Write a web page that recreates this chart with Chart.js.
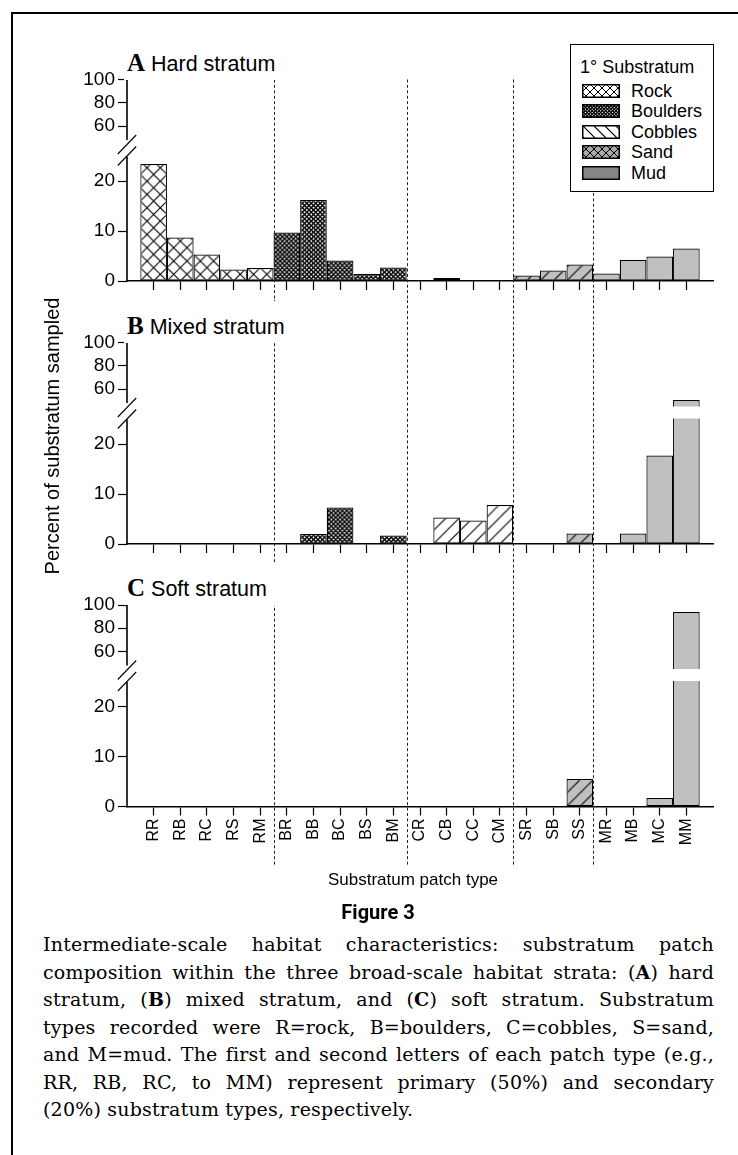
<!DOCTYPE html>
<html>
<head>
<meta charset="utf-8">
<script src="https://cdn.jsdelivr.net/npm/chart.js@4.4.1/dist/chart.umd.min.js"></script>
<style>
  html, body { margin: 0; padding: 0; background: #fff; }
  body { width: 738px; height: 1155px; position: relative; overflow: hidden; font-family: 'Liberation Sans', Arial, Helvetica, sans-serif; color: #000; }
  .frame { position: absolute; left: 11px; top: 12px; width: 760px; height: 1200px; border-left: 2.5px solid #000; border-top: 2.5px solid #000; z-index: 3; }
  canvas.panel { position: absolute; left: 0; }
  .title { position: absolute; left: 124px; width: 174px; height: 42px; background: #fff; z-index: 2; box-sizing: border-box; padding: 15px 0 0 3px; line-height: 20px; white-space: nowrap; }
  .title b { font-family: 'Liberation Serif', 'Times New Roman', serif; font-size: 25px; font-weight: bold; }
  .title span { font-size: 21.5px; }
  #legend { position: absolute; left: 570px; top: 44px; width: 144px; height: 148px; box-sizing: border-box; border: 1.5px solid #000; background: #fff; z-index: 2; font-size: 18px; }
  #legend .lt { position: absolute; left: 9px; top: 11px; line-height: 22px; white-space: nowrap; }
  #legend .row { position: absolute; left: 11px; height: 20px; line-height: 20px; white-space: nowrap; }
  #legend .row canvas { position: absolute; left: 0; top: 3px; }
  #legend .row span { position: absolute; left: 49px; top: 0; }
  .axt { position: absolute; text-align: center; white-space: nowrap; }
  #fig { position: absolute; left: 278px; width: 200px; top: 900px; text-align: center; font-family: 'Liberation Sans Narrow', 'Roboto', sans-serif; font-weight: bold; font-size: 20px; line-height: 24px; }
  #caption { position: absolute; left: 43px; width: 671px; top: 931px; font-family: 'DejaVu Serif', 'Liberation Serif', serif; font-size: 19px; line-height: 27.5px; letter-spacing: 0.2px; }
  #caption div { text-align: justify; text-align-last: justify; white-space: nowrap; }
  #caption div.last { text-align-last: left; }
</style>
</head>
<body>
<div class="frame"></div>

<canvas id="panelA" class="panel" width="738" height="300" style="top:0px"></canvas>
<canvas id="panelB" class="panel" width="738" height="270" style="top:300px"></canvas>
<canvas id="panelC" class="panel" width="738" height="300" style="top:570px"></canvas>

<div class="title" style="top:37.5px"><b>A</b><span> Hard stratum</span></div>
<div class="title" style="top:300.5px"><b>B</b><span> Mixed stratum</span></div>
<div class="title" style="top:563px"><b>C</b><span> Soft stratum</span></div>

<div id="legend">
  <div class="lt">1° Substratum</div>
</div>

<div class="axt" style="left:-98px; top:424px; width:300px; line-height:24px; font-size:20px; transform:rotate(-90deg);">Percent of substratum sampled</div>
<div class="axt" style="left:213px; top:868px; width:400px; line-height:24px; font-size:17px;">Substratum patch type</div>

<div id="fig">Figure 3</div>
<div id="caption">
  <div>Intermediate-scale habitat characteristics: substratum patch</div>
  <div>composition within the three broad-scale habitat strata: (<b>A</b>) hard</div>
  <div>stratum, (<b>B</b>) mixed stratum, and (<b>C</b>) soft stratum. Substratum</div>
  <div>types recorded were R=rock, B=boulders, C=cobbles, S=sand,</div>
  <div>and M=mud. The first and second letters of each patch type (e.g.,</div>
  <div>RR, RB, RC, to MM) represent primary (50%) and secondary</div>
  <div class="last">(20%) substratum types, respectively.</div>
</div>

<script>
/* global Chart */

const patchTypes = ['RR', 'RB', 'RC', 'RS', 'RM', 'BR', 'BB', 'BC', 'BS', 'BM', 'CR', 'CB', 'CC', 'CM', 'SR', 'SB', 'SS', 'MR', 'MB', 'MC', 'MM']
const hardValues = [23.4, 8.7, 5.3, 2.3, 2.6, 9.7, 16.2, 4.1, 1.4, 2.7, 0.2, 0.6, 0, 0, 1.1, 2.1, 3.3, 1.5, 4.2, 4.9, 6.5]
const mixedValues = [0, 0, 0, 0, 0, 0, 2.0, 7.3, 0, 1.7, 0, 5.3, 4.7, 7.8, 0, 0, 2.1, 0, 2.1, 17.7, 50.5]
const softValues = [0, 0, 0, 0, 0, 0, 0, 0, 0, 0, 0, 0, 0, 0, 0, 0, 5.5, 0, 0, 1.7, 94]
const yTickValues = [0, 10, 20, 60, 80, 100]
const groupBounds = [4.5, 9.5, 13.5, 16.5]
const substrata = ['Rock', 'Boulders', 'Cobbles', 'Sand', 'Mud']

const FONT = "'Liberation Sans', Arial, Helvetica, sans-serif"

// broken y axis: 0-25 drawn at full scale, 50-100 squeezed above the break
const BREAK_LOW = 25
const BREAK_HIGH = 50
const UPPER_BASE = 28.675
const UPPER_SLOPE = 0.2325
function toDisp (v) {
  if (v <= BREAK_LOW) return v
  if (v >= BREAK_HIGH) return UPPER_BASE + (v - BREAK_HIGH) * UPPER_SLOPE
  return BREAK_LOW + (v - BREAK_LOW) * (UPPER_BASE - BREAK_LOW) / (BREAK_HIGH - BREAK_LOW)
}

function hatch (g, w, h, dir, p, lw) {
  g.strokeStyle = '#000'
  g.lineWidth = lw
  const n = Math.ceil((w + h) / p)
  for (let k = -n; k <= 2 * n; k++) {
    const c = k * p
    g.beginPath()
    if (dir === '/') { g.moveTo(c, 0); g.lineTo(c - h, h) } else { g.moveTo(c, 0); g.lineTo(c + h, h) }
    g.stroke()
  }
}

const TILE = 27
function makePattern (bg, hatches) {
  const c = document.createElement('canvas')
  c.width = TILE
  c.height = TILE
  const g = c.getContext('2d')
  g.fillStyle = bg
  g.fillRect(0, 0, TILE, TILE)
  hatches.forEach(([dir, p, lw]) => hatch(g, TILE, TILE, dir, p, lw))
  return g.createPattern(c, 'repeat')
}

const barFills = {
  R: makePattern('#fff', [['/', 13.5, 1.1], ['\\', 13.5, 1.1]]),
  B: makePattern('#fff', [['/', 4.5, 1.5], ['\\', 4.5, 1.5]]),
  C: makePattern('#fff', [['/', 13.5, 1.1]]),
  S: makePattern('#c0c0c0', [['/', 13.5, 1.1]]),
  M: '#c0c0c0'
}

const legendSwatches = [
  { bg: '#fff', hatches: [['/', 8, 1], ['\\', 8, 1]] },
  { bg: '#fff', hatches: [['/', 3.4, 1.2], ['\\', 3.4, 1.2]] },
  { bg: '#fff', hatches: [['\\', 11, 1.1]] },
  { bg: '#a8a8a8', hatches: [['/', 8, 1], ['\\', 8, 1]] },
  { bg: '#868686', hatches: [] }
]

function buildLegend () {
  const box = document.getElementById('legend')
  substrata.forEach((name, i) => {
    const row = document.createElement('div')
    row.className = 'row'
    row.style.top = (35.5 + 20.6 * i) + 'px'
    const sw = document.createElement('canvas')
    sw.width = 38
    sw.height = 14
    const g = sw.getContext('2d')
    g.fillStyle = legendSwatches[i].bg
    g.fillRect(0, 0, 38, 14)
    legendSwatches[i].hatches.forEach(([dir, p, lw]) => hatch(g, 38, 14, dir, p, lw))
    g.strokeStyle = '#000'
    g.lineWidth = 1.5
    g.strokeRect(0.75, 0.75, 36.5, 12.5)
    const label = document.createElement('span')
    label.textContent = name
    row.appendChild(sw)
    row.appendChild(label)
    box.appendChild(row)
  })
}

const panelDecor = {
  id: 'panelDecor',
  beforeDatasetsDraw (chart) {
    const xs = chart.scales.x
    const ys = chart.scales.y
    const unit = xs.getPixelForValue(1) - xs.getPixelForValue(0)
    const m = new DOMMatrix([unit / TILE, 0, 0, unit / TILE, xs.getPixelForValue(-0.5), ys.getPixelForValue(0)])
    Object.values(barFills).forEach(f => { if (f instanceof CanvasPattern) f.setTransform(m) })
  },
  afterDatasetsDraw (chart, args, opts) {
    const { ctx, chartArea } = chart
    const xs = chart.scales.x
    const ys = chart.scales.y
    const left = chartArea.left
    ctx.save()

    // white gap through bars that cross the break
    const pts = chart.data.datasets[0].data
    chart.getDatasetMeta(0).data.forEach((bar, i) => {
      if (pts[i].y > 27.5) {
        const yTop = ys.getPixelForValue(27.5)
        const yBot = ys.getPixelForValue(25.1)
        ctx.fillStyle = '#fff'
        ctx.fillRect(bar.x - bar.width / 2 - 2, yTop, bar.width + 4, yBot - yTop)
      }
    })

    // y axis line with a break
    ctx.strokeStyle = '#000'
    ctx.lineWidth = 1.6
    ctx.beginPath()
    ctx.moveTo(left, ys.getPixelForValue(0) + 0.8)
    ctx.lineTo(left, ys.getPixelForValue(24.9))
    ctx.moveTo(left, ys.getPixelForValue(28.2))
    ctx.lineTo(left, chartArea.top)
    ctx.stroke()
    ctx.lineWidth = 1.1
    ;[27.3, 25.0].forEach(d => {
      const cy = ys.getPixelForValue(d)
      ctx.beginPath()
      ctx.moveTo(left - 9.2, cy + 9.5)
      ctx.lineTo(left + 9.2, cy - 9.5)
      ctx.stroke()
    })

    // dashed separators between primary substratum groups
    ctx.lineWidth = 1
    ctx.strokeStyle = '#222'
    ctx.setLineDash([3, 2.4])
    groupBounds.forEach(b => {
      const x = Math.round(xs.getPixelForValue(b)) + 0.5
      ctx.beginPath()
      ctx.moveTo(x, opts.fromTop ? chartArea.top : 0)
      ctx.lineTo(x, opts.to)
      ctx.stroke()
    })
    ctx.restore()
  }
}

function buildPanel (canvasId, values, padTop, xHeight, showLabels, dashFromTop, dashTo) {
  const ctx = document.getElementById(canvasId).getContext('2d')
  return new Chart(ctx, {
    type: 'bar',
    data: {
      datasets: [{
        data: values.map((v, i) => ({ x: i, y: toDisp(v) })),
        backgroundColor: patchTypes.map(p => barFills[p[0]]),
        borderColor: '#000',
        borderWidth: 1.2,
        borderSkipped: false,
        inflateAmount: 0,
        barPercentage: 1,
        categoryPercentage: 1
      }]
    },
    options: {
      responsive: false,
      animation: false,
      events: [],
      layout: { padding: { top: padTop, right: 25, bottom: 0, left: 0 } },
      plugins: {
        legend: { display: false },
        tooltip: { enabled: false },
        panelDecor: { fromTop: dashFromTop, to: dashTo }
      },
      scales: {
        x: {
          type: 'linear',
          min: -1,
          max: 21,
          offset: false,
          afterBuildTicks: s => { s.ticks = patchTypes.map((_, i) => ({ value: i })) },
          afterFit: s => { s.height = xHeight },
          grid: { drawOnChartArea: false, drawTicks: true, tickLength: 9, tickColor: '#000', tickWidth: 1.2, offset: false },
          border: { display: true, color: '#000', width: 1.6 },
          ticks: {
            display: showLabels,
            autoSkip: false,
            minRotation: 90,
            maxRotation: 90,
            padding: 3,
            color: '#000',
            font: { family: FONT, size: 16 },
            callback: (v, i) => patchTypes[i]
          }
        },
        y: {
          min: 0,
          max: toDisp(100),
          afterBuildTicks: s => { s.ticks = yTickValues.map(v => ({ value: toDisp(v) })) },
          afterFit: s => { s.width = 127 },
          grid: { drawOnChartArea: false, drawTicks: true, tickLength: 9, tickColor: '#000', tickWidth: 1.2 },
          border: { display: false },
          ticks: {
            padding: 3,
            color: '#000',
            font: { family: FONT, size: 19 },
            callback: (v, i) => String(yTickValues[i])
          }
        }
      }
    },
    plugins: [panelDecor]
  })
}

buildLegend()
buildPanel('panelA', hardValues, 79.5, 19, false, true, 300)
buildPanel('panelB', mixedValues, 42.5, 26, false, false, 270)
buildPanel('panelC', softValues, 35, 63.5, true, false, 295)
</script>
</body>
</html>
